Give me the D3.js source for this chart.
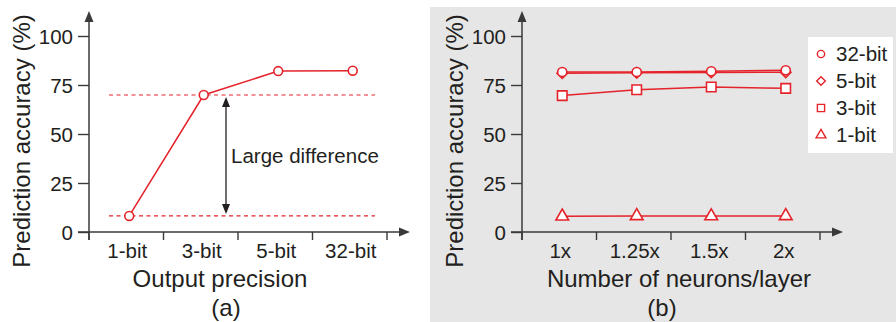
<!DOCTYPE html>
<html><head><meta charset="utf-8">
<script src="https://cdn.jsdelivr.net/npm/d3@7"></script>
<style>
html,body{margin:0;padding:0;background:#fff;}
svg{display:block;font-family:"Liberation Sans",Arial,Helvetica,sans-serif;}
</style></head>
<body>
<svg id="chart" width="896" height="322"></svg>
<script>
// ---- data ----
const precisionCats = ["1-bit", "3-bit", "5-bit", "32-bit"];
const precisionAcc = [8.2, 69.9, 82.1, 82.3];
const neuronCats = ["1x", "1.25x", "1.5x", "2x"];
const acc32 = [81.6, 81.6, 82.0, 82.5];
const acc5 = [81.0, 81.2, 81.4, 81.5];
const acc3 = [69.6, 72.6, 74.0, 73.3];
const acc1 = [8.0, 8.2, 8.1, 8.2];
const yTicks = [0, 25, 50, 75, 100];
const seriesNames = ["32-bit", "5-bit", "3-bit", "1-bit"];

const RED = "#e5232b", AX = "#3a3a3a", TXT = "#231f20";
const svg = d3.select("#chart");

// panel b background
svg.append("rect").attr("x", 430).attr("y", 7).attr("width", 466).attr("height", 315).attr("fill", "#e6e6e6");

function panel(opts) {
  const g = svg.append("g");
  const y = d3.scaleLinear().domain([0, 100]).range([232, 36]);
  const x = d3.scaleBand().domain(opts.cats).range([opts.x0, opts.x1]);
  const px = c => x(c) + x.bandwidth() * 0.54;

  const ya = d3.axisLeft(y).tickValues(yTicks).tickSize(11).tickPadding(5).tickSizeOuter(0);
  const yg = g.append("g").attr("transform", `translate(${opts.x0},0)`).call(ya);
  yg.select(".domain").remove();
  yg.selectAll("line").attr("stroke", AX).attr("stroke-width", 1.4);
  yg.selectAll("text").attr("font-size", 20.5).attr("fill", TXT).attr("font-family", null).attr("dy", "0.36em");

  g.append("line").attr("x1", opts.x0).attr("x2", opts.x0).attr("y1", 240).attr("y2", 18).attr("stroke", AX).attr("stroke-width", 1.5);
  g.append("path").attr("d", `M${opts.x0},11 L${opts.x0 - 4.5},22 L${opts.x0 + 4.5},22 Z`).attr("fill", AX);
  const xEnd = opts.x1 + 23;
  g.append("line").attr("x1", opts.x0 - 11).attr("x2", xEnd - 6).attr("y1", y(0)).attr("y2", y(0)).attr("stroke", AX).attr("stroke-width", 1.5);
  g.append("path").attr("d", `M${xEnd},${y(0)} L${xEnd - 11},${y(0) - 4.5} L${xEnd - 11},${y(0) + 4.5} Z`).attr("fill", AX);

  const bounds = opts.cats.map(c => x(c)).concat([opts.x1]);
  g.selectAll(".xt").data(bounds).join("line")
    .attr("x1", d => d).attr("x2", d => d).attr("y1", y(0)).attr("y2", y(0) + 8)
    .attr("stroke", AX).attr("stroke-width", 1.4);
  g.selectAll(".xl").data(opts.cats).join("text")
    .attr("x", c => x(c) + x.bandwidth() / 2 + 1).attr("y", 258)
    .attr("text-anchor", "middle").attr("font-size", 20.5).attr("fill", TXT).text(c => c);

  g.append("text").attr("transform", `translate(${opts.yTitleX},${141}) rotate(-90)`)
    .attr("text-anchor", "middle").attr("font-size", 24).attr("fill", TXT).text("Prediction accuracy (%)");
  g.append("text").attr("x", opts.xTitleX).attr("y", 287).attr("text-anchor", "middle")
    .attr("font-size", 24).attr("fill", TXT).text(opts.xTitle);
  g.append("text").attr("x", opts.capX).attr("y", 316).attr("text-anchor", "middle")
    .attr("font-size", 24).attr("fill", TXT).text(opts.cap);

  return {g, x, y, px};
}

function drawSeries(p, cats, vals, symType, size) {
  const line = d3.line().x((d, i) => p.px(cats[i])).y(d => p.y(d));
  p.g.append("path").datum(vals).attr("d", line).attr("fill", "none").attr("stroke", RED).attr("stroke-width", 1.5);
  const sym = d3.symbol().type(symType).size(size);
  p.g.selectAll(null).data(vals).join("path")
    .attr("transform", (d, i) => `translate(${p.px(cats[i])},${p.y(d)})`)
    .attr("d", sym()).attr("fill", "#fff").attr("stroke", RED).attr("stroke-width", 1.6);
}

// ---- panel a ----
const pa = panel({cats: precisionCats, x0: 89, x1: 387, yTitleX: 30, xTitle: "Output precision", xTitleX: 220, cap: "(a)", capX: 226});
[precisionAcc[0], precisionAcc[1]].forEach(v => {
  pa.g.append("line").attr("x1", 109).attr("x2", 375).attr("y1", pa.y(v)).attr("y2", pa.y(v))
    .attr("stroke", RED).attr("stroke-width", 1.2).attr("stroke-dasharray", "4,3.5");
});
drawSeries(pa, precisionCats, precisionAcc, d3.symbolCircle, 62);
const ax = 226, yTop = pa.y(precisionAcc[1]) + 2, yBot = pa.y(precisionAcc[0]) - 2;
pa.g.append("line").attr("x1", ax).attr("x2", ax).attr("y1", yTop + 6).attr("y2", yBot - 6).attr("stroke", TXT).attr("stroke-width", 1.3);
pa.g.append("path").attr("d", `M${ax},${yTop} L${ax - 4},${yTop + 10} L${ax + 4},${yTop + 10} Z`).attr("fill", TXT);
pa.g.append("path").attr("d", `M${ax},${yBot} L${ax - 4},${yBot - 10} L${ax + 4},${yBot - 10} Z`).attr("fill", TXT);
pa.g.append("text").attr("x", 231).attr("y", 163).attr("font-size", 20.5).attr("fill", TXT).text("Large difference");

// ---- panel b ----
const pb = panel({cats: neuronCats, x0: 522, x1: 820, yTitleX: 463, xTitle: "Number of neurons/layer", xTitleX: 679, cap: "(b)", capX: 662});
const seriesB = [
  {vals: acc1, type: d3.symbolTriangle, size: 70},
  {vals: acc3, type: d3.symbolSquare, size: 90},
  {vals: acc5, type: d3.symbolDiamond2, size: 70},
  {vals: acc32, type: d3.symbolCircle, size: 66}
];
seriesB.forEach(s => drawSeries(pb, neuronCats, s.vals, s.type, s.size));

// legend
const lg = svg.append("g");
lg.append("rect").attr("x", 808).attr("y", 37).attr("width", 85).attr("height", 116).attr("fill", "#fff");
const legSyms = [
  {name: seriesNames[0], type: d3.symbolCircle, size: 42},
  {name: seriesNames[1], type: d3.symbolDiamond2, size: 48},
  {name: seriesNames[2], type: d3.symbolSquare, size: 52},
  {name: seriesNames[3], type: d3.symbolTriangle, size: 42}
];
const legY = d3.scalePoint().domain(seriesNames).range([54, 135]);
legSyms.forEach(s => {
  lg.append("path").attr("transform", `translate(821,${legY(s.name)})`)
    .attr("d", d3.symbol().type(s.type).size(s.size)()).attr("fill", "#fff").attr("stroke", RED).attr("stroke-width", 1.4);
  lg.append("text").attr("x", 836).attr("y", legY(s.name)).attr("dy", "0.36em")
    .attr("font-size", 20.5).attr("fill", TXT).text(s.name);
});
</script>
</body></html>
